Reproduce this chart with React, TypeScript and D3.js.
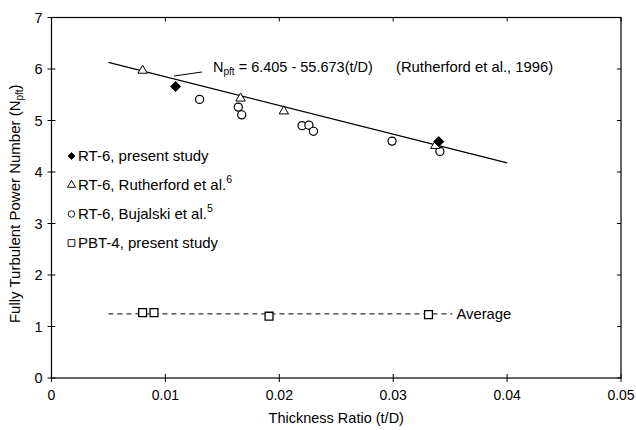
import React from 'react';
import * as d3 from 'd3';

// valores
const presentRT6 = [
  [0.0109, 5.66],
  [0.034, 4.59],
];
const rutherfordRT6 = [
  [0.008, 5.97],
  [0.0166, 5.43],
  [0.0204, 5.18],
  [0.0337, 4.51],
];
const bujalskiRT6 = [
  [0.013, 5.41],
  [0.0164, 5.26],
  [0.0167, 5.11],
  [0.022, 4.9],
  [0.0226, 4.91],
  [0.023, 4.79],
  [0.0299, 4.6],
  [0.0341, 4.4],
];
const presentPBT4 = [
  [0.008, 1.27],
  [0.009, 1.27],
  [0.0191, 1.2],
  [0.0331, 1.23],
];
const fitRange = [0.005, 0.04];
const averageRange = [0.005, 0.0352];
const averageValue = 1.245;
const xTicks = [0, 0.01, 0.02, 0.03, 0.04, 0.05];
const yTicks = [0, 1, 2, 3, 4, 5, 6, 7];

const W = 636;
const H = 430;
const left = 51.5;
const right = 621;
const top = 17.5;
const bottom = 378;
const font = "Arial, 'Liberation Sans', sans-serif";

export default function App() {
  const x = d3.scaleLinear().domain([0, 0.05]).range([left, right]);
  const y = d3.scaleLinear().domain([0, 7]).range([bottom, top]);

  const fit = (t: number) => 6.405 - 55.673 * t;
  const fitLine = d3.line<number>().x((t) => x(t)).y((t) => y(fit(t)));

  const sym = (type: d3.SymbolType, size: number) => d3.symbol().type(type).size(size)() as string;
  // losango "quadrado girado", como no original
  const diamond = 'M0,-5L5,0L0,5L-5,0Z';
  const triangle = sym(d3.symbolTriangle, 38);
  const circle = sym(d3.symbolCircle, 52);
  const square = sym(d3.symbolSquare, 62);

  const legend = [
    { d: diamond, fill: '#000', label: 'RT-6, present study', sup: '', k: 0.7 },
    { d: triangle, fill: '#fff', label: 'RT-6, Rutherford et al.', sup: '6', k: 0.85 },
    { d: circle, fill: '#fff', label: 'RT-6, Bujalski et al.', sup: '5', k: 0.8 },
    { d: square, fill: '#fff', label: 'PBT-4, present study', sup: '', k: 0.85 },
  ];

  return (
    <svg width={W} height={H} style={{ position: 'absolute', left: 0, top: 0, background: '#fff' }}>
      <g fontFamily={font} fill="#000">
        {/* moldura */}
        <rect x={left} y={top} width={right - left} height={bottom - top} fill="none" stroke="#000" strokeWidth={1.2} />

        {/* ticks eixo x */}
        {xTicks.map((t) => (
          <g key={'x' + t}>
            <line x1={x(t)} x2={x(t)} y1={bottom - 4} y2={bottom + 4} stroke="#000" />
            <line x1={x(t)} x2={x(t)} y1={top} y2={top + 4} stroke="#000" />
            <text x={x(t)} y={bottom + 22} textAnchor="middle" fontSize={14}>
              {t === 0 ? '0' : t.toFixed(2)}
            </text>
          </g>
        ))}

        {/* ticks eixo y */}
        {yTicks.map((v) => (
          <g key={'y' + v}>
            <line x1={left - 4} x2={left + 4} y1={y(v)} y2={y(v)} stroke="#000" />
            <line x1={right - 4} x2={right} y1={y(v)} y2={y(v)} stroke="#000" />
            <text x={left - 9} y={y(v) + 5} textAnchor="end" fontSize={14.5}>
              {v}
            </text>
          </g>
        ))}

        <text x={(left + right) / 2} y={423} textAnchor="middle" fontSize={14.5}>
          Thickness Ratio (t/D)
        </text>
        <text transform={`translate(20,${(top + bottom) / 2 + 6}) rotate(-90)`} textAnchor="middle" fontSize={15}>
          Fully Turbulent Power Number (N
          <tspan fontSize={10} dy={3}>pft</tspan>
          <tspan dy={-3}>)</tspan>
        </text>

        {/* reta de ajuste */}
        <path d={fitLine(fitRange) as string} fill="none" stroke="#000" strokeWidth={1.3} />
        <line x1={174} y1={76} x2={202} y2={72} stroke="#000" strokeWidth={1} />
        <text x={213} y={72} fontSize={14.5}>
          N<tspan fontSize={10} dy={3}>pft</tspan>
          <tspan dy={-3}> = 6.405 - 55.673(t/D)</tspan>
        </text>
        <text x={396} y={72} fontSize={14.8}>
          (Rutherford et al., 1996)
        </text>

        {/* media PBT-4 */}
        <line
          x1={x(averageRange[0])}
          x2={x(averageRange[1])}
          y1={y(averageValue)}
          y2={y(averageValue)}
          stroke="#000"
          strokeWidth={1}
          strokeDasharray="5,4"
        />
        <text x={x(averageRange[1]) + 4} y={y(averageValue) + 5} fontSize={14.8}>
          Average
        </text>

        {/* pontos */}
        {bujalskiRT6.map((p, i) => (
          <path key={'c' + i} d={circle} transform={`translate(${x(p[0])},${y(p[1])})`} fill="#fff" stroke="#000" strokeWidth={1.2} />
        ))}
        {rutherfordRT6.map((p, i) => (
          <path key={'t' + i} d={triangle} transform={`translate(${x(p[0])},${y(p[1])})`} fill="#fff" stroke="#000" strokeWidth={1} />
        ))}
        {presentRT6.map((p, i) => (
          <path key={'d' + i} d={diamond} transform={`translate(${x(p[0])},${y(p[1])})`} fill="#000" stroke="#000" />
        ))}
        {presentPBT4.map((p, i) => (
          <path key={'s' + i} d={square} transform={`translate(${x(p[0])},${y(p[1])})`} fill="#fff" stroke="#000" strokeWidth={1.3} />
        ))}

        {/* legenda */}
        {legend.map((l, i) => {
          const ly = 156 + i * 29;
          return (
            <g key={'l' + i}>
              <path d={l.d} transform={`translate(71.5,${ly}) scale(${l.k})`} fill={l.fill} stroke="#000" strokeWidth={1.1} />
              <text x={78} y={ly + 5} fontSize={15}>
                {l.label}
                {l.sup && (
                  <tspan fontSize={10.5} dy={-7}>
                    {l.sup}
                  </tspan>
                )}
              </text>
            </g>
          );
        })}
      </g>
    </svg>
  );
}
